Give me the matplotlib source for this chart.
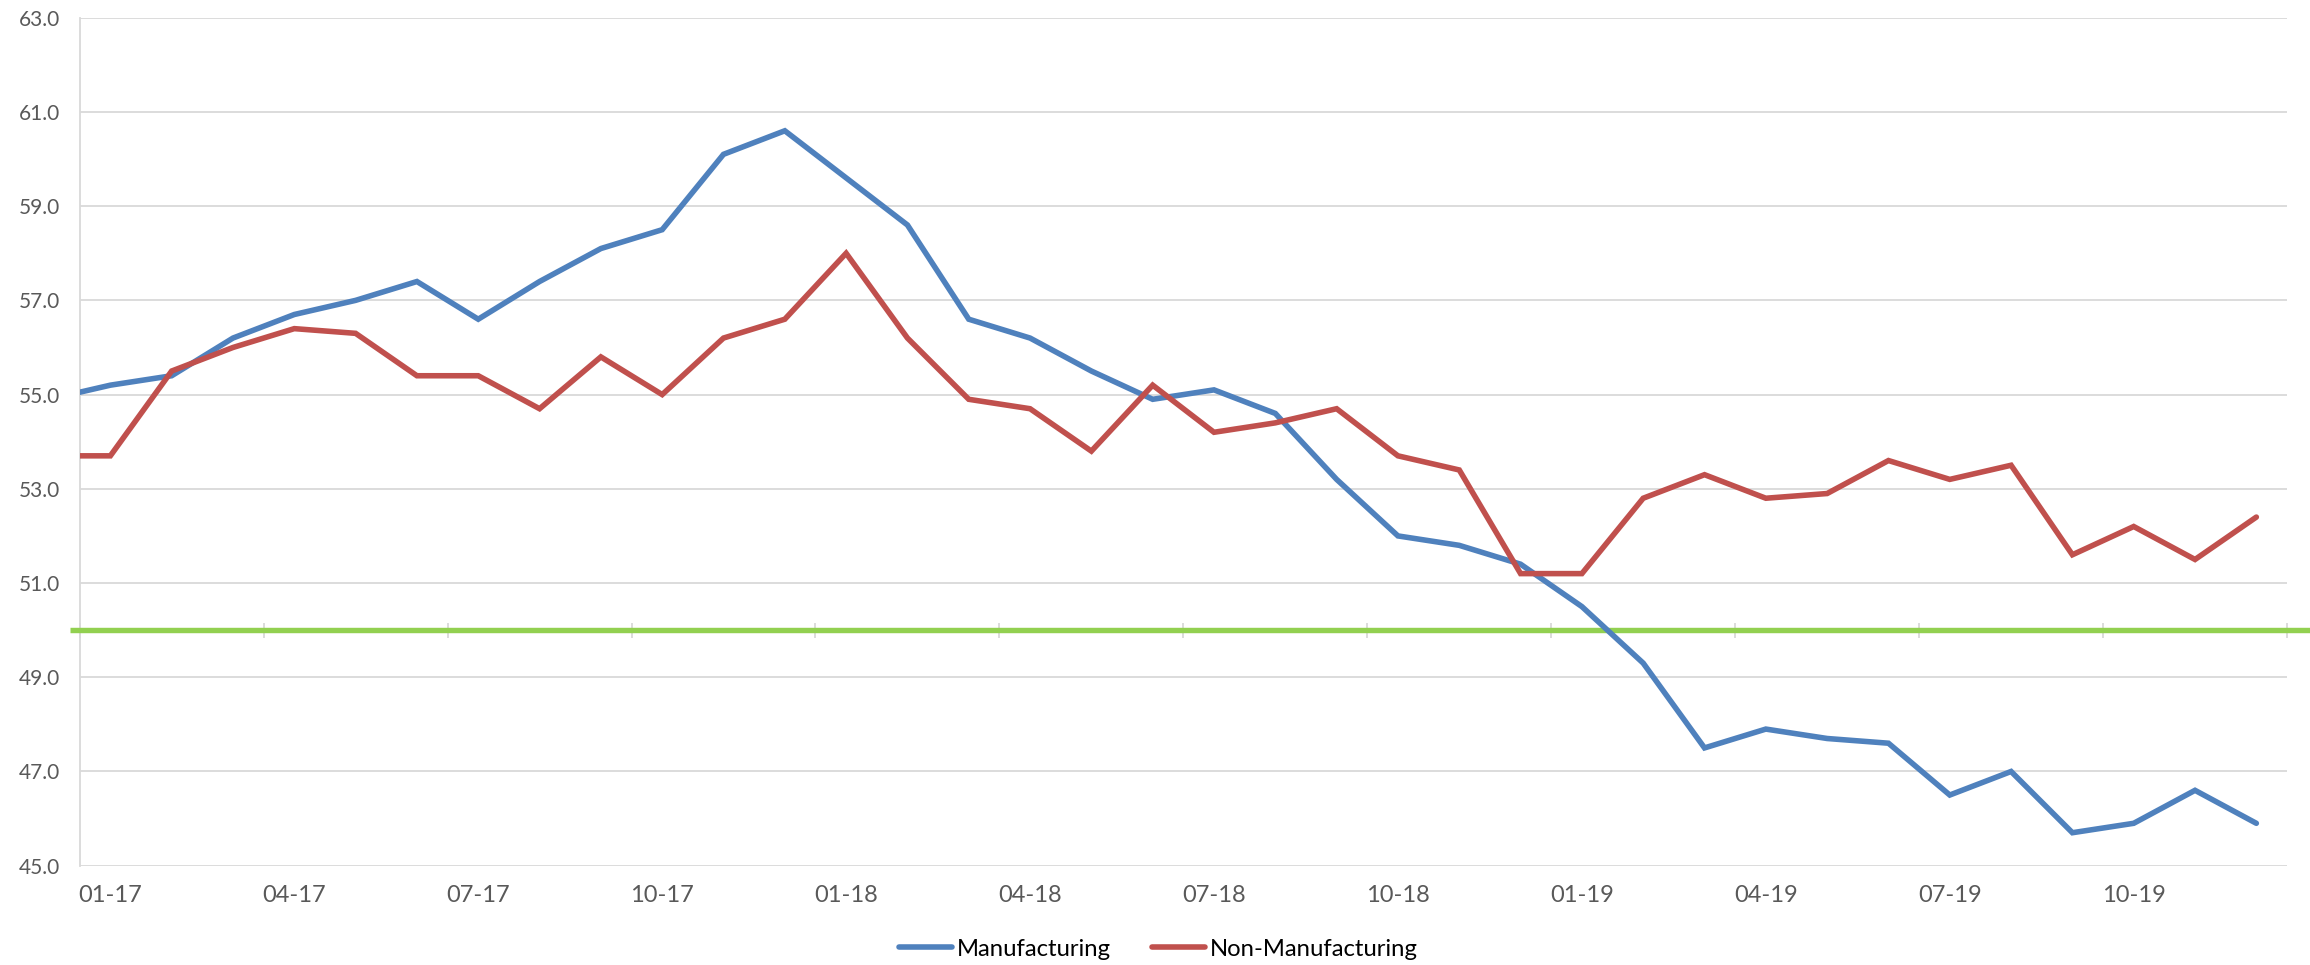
import matplotlib
matplotlib.use("Agg")
import matplotlib.pyplot as plt
import matplotlib.transforms as mtransforms
import numpy as np

# ---- data (Dec-16 .. Dec-19; Dec-16 lies just left of the axis and is clipped) ----
months = (["12-16"] +
          [f"{m:02d}-{y}" for y in (17, 18, 19) for m in range(1, 13)])
manufacturing = [54.9,
                 55.2, 55.4, 56.2, 56.7, 57.0, 57.4, 56.6, 57.4, 58.1, 58.5, 60.1, 60.6,
                 59.6, 58.6, 56.6, 56.2, 55.5, 54.9, 55.1, 54.6, 53.2, 52.0, 51.8, 51.4,
                 50.5, 49.3, 47.5, 47.9, 47.7, 47.6, 46.5, 47.0, 45.7, 45.9, 46.6, 45.9]
non_manufacturing = [53.7,
                     53.7, 55.5, 56.0, 56.4, 56.3, 55.4, 55.4, 54.7, 55.8, 55.0, 56.2, 56.6,
                     58.0, 56.2, 54.9, 54.7, 53.8, 55.2, 54.2, 54.4, 54.7, 53.7, 53.4, 51.2,
                     51.2, 52.8, 53.3, 52.8, 52.9, 53.6, 53.2, 53.5, 51.6, 52.2, 51.5, 52.4]
tick_labels = ["01-17", "04-17", "07-17", "10-17", "01-18", "04-18",
               "07-18", "10-18", "01-19", "04-19", "07-19", "10-19"]
series_names = ["Manufacturing", "Non-Manufacturing"]
threshold = 50.0

plt.rcParams["font.family"] = ["Lato", "DejaVu Sans"]

W, H = 2310, 965
fig = plt.figure(figsize=(W / 100, H / 100), dpi=100)
left, right, top, bottom = 79.7, 2287, 17.7, 865.7
ax = fig.add_axes([left / W, (H - bottom) / H, (right - left) / W, (bottom - top) / H])

blue = "#4F81BD"
red = "#C0504D"
green = "#92D050"
grid_c = "#D9D9D9"

n_months = len(months)
x = np.arange(n_months) - 0.5  # month centres in slot units (Jan-17 -> 0.5)

l1, = ax.plot(x, manufacturing, color=blue, lw=4.0, zorder=4,
              solid_capstyle="round", solid_joinstyle="miter")
l2, = ax.plot(x, non_manufacturing, color=red, lw=4.0, zorder=4,
              solid_capstyle="round", solid_joinstyle="miter")

ax.set_xlim(0, n_months - 1)
ax.set_ylim(45, 63)
ax.set_yticks(np.arange(45, 63.01, 2))
ax.set_yticklabels([f"{v:.1f}" for v in np.arange(45, 63.01, 2)])
ax.yaxis.grid(True, color=grid_c, lw=1.3, zorder=0)
ax.set_axisbelow(True)
for s in ("top", "right", "bottom"):
    ax.spines[s].set_visible(False)
ax.spines["left"].set_color(grid_c)
ax.spines["left"].set_linewidth(1.3)

ax.tick_params(axis="y", length=0, pad=14, labelsize=15, labelcolor="#595959")

# category labels centred on the quarter-start months
label_pos = [i + 0.5 for i in range(0, n_months - 1, 3)]
ax.set_xticks(label_pos)
ax.set_xticklabels(tick_labels)
ax.tick_params(axis="x", length=0, pad=14, labelsize=17, labelcolor="#595959")

# horizontal axis line crossing at 50 (green) with tick marks
trans = mtransforms.blended_transform_factory(ax.transAxes, ax.transData)
ax.plot([-0.0044, 1.0104], [threshold, threshold], transform=trans, color=green,
        lw=3.9, clip_on=False, zorder=3, solid_capstyle="butt")
tick_marks = list(range(0, n_months, 3))
ax.vlines(tick_marks, threshold - 0.16, threshold + 0.16, color=grid_c, lw=1.3,
          zorder=2, clip_on=False)

fig.legend([l1, l2], series_names, loc="center", bbox_to_anchor=(0.5015, 16 / H),
           ncol=2, frameon=False, fontsize=17.2, handlelength=2.2,
           handletextpad=0.21, columnspacing=1.75, labelcolor="black")

fig.savefig("out.png", dpi=100, facecolor="white")
